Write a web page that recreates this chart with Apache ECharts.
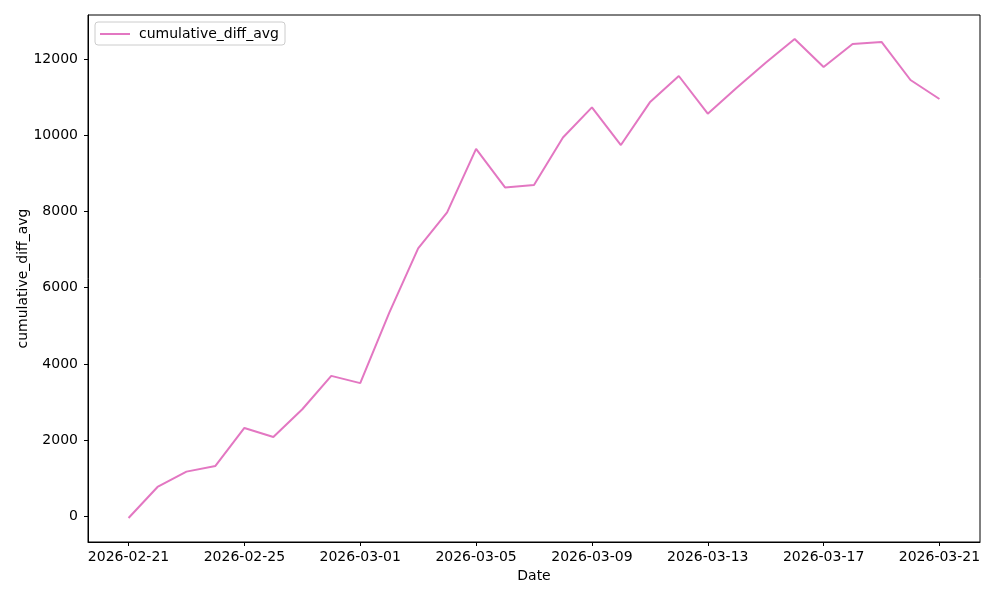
<!DOCTYPE html>
<html>
<head>
<meta charset="utf-8">
<script src="https://cdn.jsdelivr.net/npm/echarts@6/dist/echarts.min.js"></script>
<style>
html,body{margin:0;padding:0;background:#fff;}
#chart{width:1000px;height:600px;}
</style>
</head>
<body>
<div id="chart"></div>
<script>
const dates = ['2026-02-21','2026-02-22','2026-02-23','2026-02-24','2026-02-25','2026-02-26','2026-02-27','2026-02-28',
  '2026-03-01','2026-03-02','2026-03-03','2026-03-04','2026-03-05','2026-03-06','2026-03-07','2026-03-08',
  '2026-03-09','2026-03-10','2026-03-11','2026-03-12','2026-03-13','2026-03-14','2026-03-15','2026-03-16',
  '2026-03-17','2026-03-18','2026-03-19','2026-03-20','2026-03-21'];
const cumulativeDiffAvg = [-45, 770, 1173, 1322, 2319, 2083, 2810, 3685,
  3495, 5340, 7030, 7975, 9640, 8631, 8692, 9940,
  10732, 9742, 10863, 11554, 10565, 11248, 11904, 12526,
  11791, 12395, 12447, 11449, 10950];
const xTickIndex = [0, 4, 8, 12, 16, 20, 24, 28];
const yTicks = [0, 2000, 4000, 6000, 8000, 10000, 12000];

const seriesData = cumulativeDiffAvg.map((v, i) => [i, v]);
const n = dates.length - 1;
const xPad = n * 0.05;
const yMin = Math.min(...cumulativeDiffAvg), yMax = Math.max(...cumulativeDiffAvg);
const yPad = (yMax - yMin) * 0.05;

const font = 'DejaVu Sans';
const fs = 14;
const chart = echarts.init(document.getElementById('chart'), null, {renderer: 'canvas'});
chart.setOption({
  animation: false,
  backgroundColor: '#fff',
  textStyle: {fontFamily: font},
  grid: {left: 88, right: 20, top: 15, bottom: 58, show: true, borderColor: '#000', borderWidth: 1, backgroundColor: 'transparent'},
  legend: {
    left: 95, top: 22,
    data: ['cumulative_diff_avg'],
    icon: 'rect', itemWidth: 30, itemHeight: 2,
    padding: [5, 6, 4, 5],
    borderColor: '#cccccc', borderWidth: 1, borderRadius: 3, backgroundColor: '#fff',
    textStyle: {fontFamily: font, fontSize: fs, color: '#000', padding: [0, 0, 0, 4]}
  },
  xAxis: {
    type: 'value',
    min: -xPad, max: n + xPad,
    name: 'Date', nameLocation: 'middle', nameGap: 27, nameMoveOverlap: false,
    nameTextStyle: {fontFamily: font, fontSize: fs, color: '#000'},
    splitLine: {show: false},
    axisLine: {show: true, onZero: false, lineStyle: {color: '#000', width: 1}},
    axisTick: {show: true, length: 4, lineStyle: {color: '#000'}, customValues: xTickIndex},
    axisLabel: {fontFamily: font, fontSize: fs, color: '#000', margin: 8, customValues: xTickIndex,
      formatter: v => dates[Math.round(v)] || ''}
  },
  yAxis: {
    type: 'value',
    min: yMin - yPad, max: yMax + yPad,
    name: 'cumulative_diff_avg', nameLocation: 'middle', nameGap: 58, nameMoveOverlap: false,
    nameTextStyle: {fontFamily: font, fontSize: fs, color: '#000'},
    splitLine: {show: false},
    axisLine: {show: true, onZero: false, lineStyle: {color: '#000', width: 1}},
    axisTick: {show: true, length: 4, lineStyle: {color: '#000'}, customValues: yTicks},
    axisLabel: {fontFamily: font, fontSize: fs, color: '#000', margin: 10, customValues: yTicks,
      formatter: v => String(v)}
  },
  series: [{
    name: 'cumulative_diff_avg',
    type: 'line',
    data: seriesData,
    showSymbol: false,
    symbol: 'none',
    lineStyle: {color: '#e377c2', width: 2},
    itemStyle: {color: '#e377c2'}
  }]
});
</script>
</body>
</html>
